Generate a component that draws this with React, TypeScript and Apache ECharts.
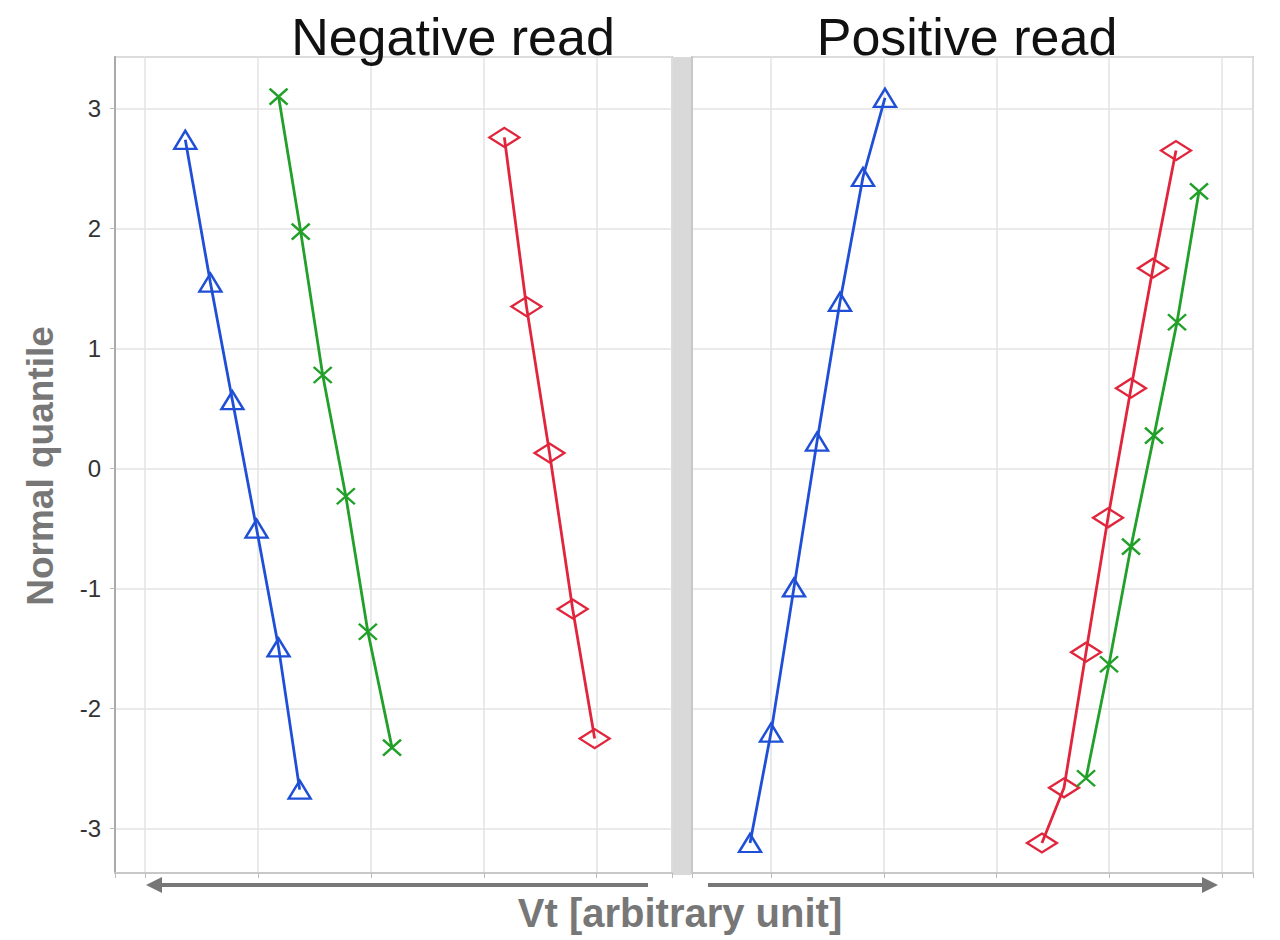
import React, { useEffect, useRef } from "react";
import * as echarts from "echarts";

// ---- data (arbitrary Vt units, normal quantiles) ----
const panelTitles = ["Negative read", "Positive read"];
const yTicks = [-3, -2, -1, 0, 1, 2, 3];

const negBlueX = [1.356, 1.578, 1.773, 1.987, 2.182, 2.369];
const negBlueY = [2.74, 1.55, 0.57, -0.5, -1.49, -2.675];
const negGreenX = [2.182, 2.378, 2.573, 2.778, 2.973, 3.187];
const negGreenY = [3.1, 1.975, 0.78, -0.23, -1.36, -2.325];
const negRedX = [4.182, 4.378, 4.582, 4.787, 4.982];
const negRedY = [2.76, 1.35, 0.13, -1.17, -2.25];

const posBlueX = [0.814, 1.0, 1.204, 1.408, 1.612, 1.816, 2.011];
const posBlueY = [-3.12, -2.2, -0.99, 0.225, 1.39, 2.43, 3.09];
const posRedX = [3.403, 3.599, 3.794, 3.989, 4.193, 4.388, 4.592];
const posRedY = [-3.12, -2.66, -1.53, -0.41, 0.67, 1.67, 2.65];
const posGreenX = [3.794, 3.998, 4.193, 4.397, 4.601, 4.796];
const posGreenY = [-2.58, -1.63, -0.65, 0.275, 1.22, 2.31];

const BLUE = "#1f4fd6";
const GREEN = "#22a02a";
const RED = "#e0253c";

const zip = (xs: number[], ys: number[]) => xs.map((x, i) => [x, ys[i]]);

const SYM_TRI = { symbol: "triangle", symbolSize: [22, 18] };
const SYM_X = { symbol: "path://M0,0L10,10M10,0L0,10", symbolSize: [18, 16] };
const SYM_DIA = { symbol: "diamond", symbolSize: [30, 19] };

function mkSeries(xs: number[], ys: number[], color: string, sym: any, idx: number) {
  return {
    type: "line",
    xAxisIndex: idx,
    yAxisIndex: idx,
    data: zip(xs, ys),
    ...sym,
    showSymbol: true,
    lineStyle: { color, width: 2.8 },
    itemStyle: { color: "rgba(255,255,255,0)", borderColor: color, borderWidth: 2.4 },
    z: 3,
  };
}

export default function App() {
  const ref = useRef<HTMLDivElement>(null);
  useEffect(() => {
    if (!ref.current) return;
    const chart = echarts.init(ref.current, undefined, { renderer: "svg" });
    const gridTop = 57;
    const gridH = 816;
    const yAxisBase = (idx: number, showLabels: boolean) => ({
      type: "value",
      gridIndex: idx,
      min: -3.37,
      max: 3.43,
      splitNumber: 7,
      axisLine: { show: true, onZero: false, lineStyle: { color: idx === 0 ? "#aaaaaa" : "#c8c8c8", width: 2 } },
      axisTick: { show: showLabels, length: 5, lineStyle: { color: "#bbbbbb" } },
      axisLabel: {
        show: showLabels,
        showMinLabel: false,
        showMaxLabel: false,
        fontSize: 24,
        color: "#333333",
        fontFamily: "Liberation Sans",
        margin: 14,
        formatter: (v: number) => (yTicks.includes(Math.round(v * 1000) / 1000) ? String(v) : ""),
      },
      splitLine: { show: true, lineStyle: { color: "#e3e3e3", width: 1.5 } },
    });
    const xAxisBase = (idx: number, min: number, max: number) => ({
      type: "value",
      gridIndex: idx,
      min,
      max,
      splitNumber: 5,
      axisLine: { show: true, onZero: false, lineStyle: { color: "#c8c8c8", width: 2 } },
      axisTick: { show: true, length: 5, lineStyle: { color: "#bbbbbb" } },
      axisLabel: { show: false },
      splitLine: { show: true, lineStyle: { color: "#e3e3e3", width: 1.5 } },
    });
    chart.setOption({
      animation: false,
      backgroundColor: "#ffffff",
      title: [
        {
          text: panelTitles[0],
          left: 448,
          top: 6,
          textAlign: "center",
          textStyle: { fontSize: 52, fontWeight: "normal", color: "#111111", fontFamily: "Liberation Sans" },
        },
        {
          text: panelTitles[1],
          left: 962,
          top: 6,
          textAlign: "center",
          textStyle: { fontSize: 52, fontWeight: "normal", color: "#111111", fontFamily: "Liberation Sans" },
        },
      ],
      grid: [
        { left: 115, top: gridTop, width: 557, height: gridH, show: true, borderColor: "#c8c8c8", borderWidth: 2 },
        { left: 692, top: gridTop, width: 561, height: gridH, show: true, borderColor: "#c8c8c8", borderWidth: 2 },
      ],
      xAxis: [xAxisBase(0, 0.7333, 5.667), xAxisBase(1, 0.2993, 5.275)],
      yAxis: [yAxisBase(0, true), yAxisBase(1, false)],
      series: [
        mkSeries(negBlueX, negBlueY, BLUE, SYM_TRI, 0),
        mkSeries(negGreenX, negGreenY, GREEN, SYM_X, 0),
        mkSeries(negRedX, negRedY, RED, SYM_DIA, 0),
        mkSeries(posBlueX, posBlueY, BLUE, SYM_TRI, 1),
        mkSeries(posRedX, posRedY, RED, SYM_DIA, 1),
        mkSeries(posGreenX, posGreenY, GREEN, SYM_X, 1),
      ],
      graphic: [
        {
          type: "rect",
          shape: { x: 673, y: 57, width: 18, height: 818 },
          style: { fill: "#d9d9d9" },
          z: 10,
        },
        {
          type: "line",
          shape: { x1: 158, y1: 885, x2: 648, y2: 885 },
          style: { stroke: "#777777", lineWidth: 4 },
        },
        {
          type: "polygon",
          shape: { points: [[146, 885], [162, 877], [162, 893]] },
          style: { fill: "#777777" },
        },
        {
          type: "line",
          shape: { x1: 708, y1: 885, x2: 1206, y2: 885 },
          style: { stroke: "#777777", lineWidth: 4 },
        },
        {
          type: "polygon",
          shape: { points: [[1218, 885], [1202, 877], [1202, 893]] },
          style: { fill: "#777777" },
        },
        {
          type: "text",
          x: 680,
          y: 913,
          style: {
            text: "Vt [arbitrary unit]",
            fontSize: 40,
            fontWeight: "bold",
            fill: "#777777",
            fontFamily: "Liberation Sans",
            textAlign: "center",
            textVerticalAlign: "middle",
          },
        },
        {
          type: "text",
          x: 40,
          y: 466,
          rotation: Math.PI / 2,
          style: {
            text: "Normal quantile",
            fontSize: 37,
            fontWeight: "bold",
            fill: "#777777",
            fontFamily: "Liberation Sans",
            textAlign: "center",
            textVerticalAlign: "middle",
          },
        },
      ],
    });
    return () => chart.dispose();
  }, []);
  return (
    <div
      ref={ref}
      style={{ position: "fixed", left: 0, top: 0, width: 1280, height: 940 }}
    />
  );
}
